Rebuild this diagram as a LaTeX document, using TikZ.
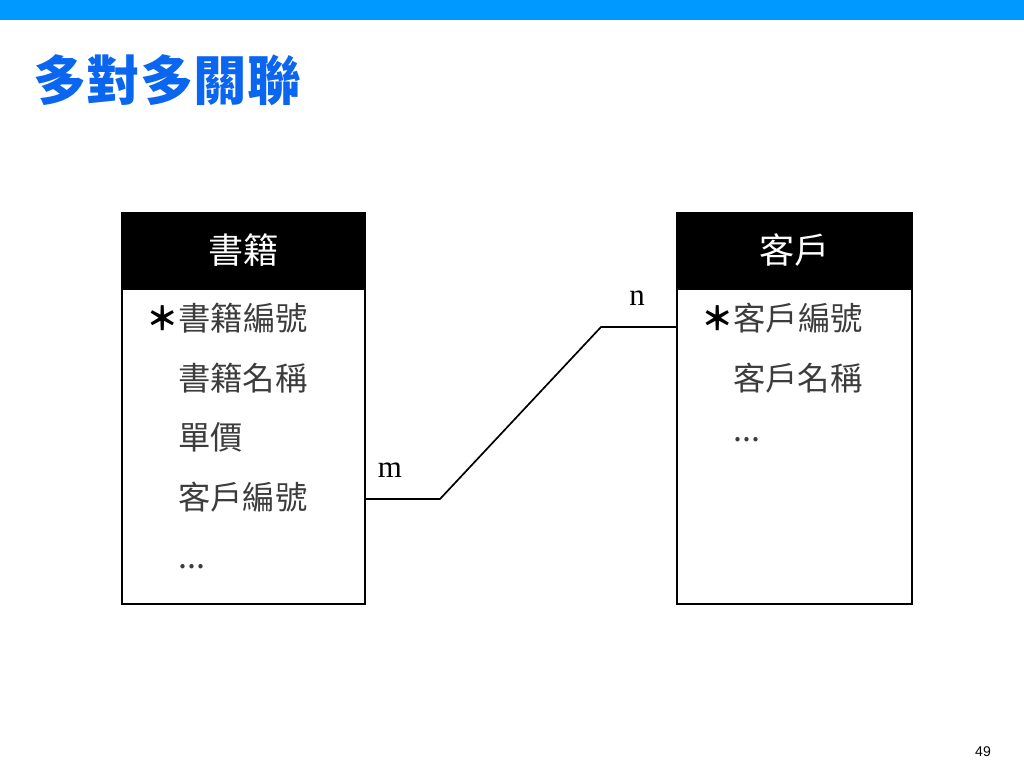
\documentclass[tikz,border=0pt]{standalone}
\usepackage{fontspec}
\newfontfamily\cjk{Noto Sans CJK TC}
\newfontfamily\numfont{Liberation Serif}
\setsansfont{Liberation Sans}
\usetikzlibrary{positioning}
\definecolor{barblue}{HTML}{0099FF}
\definecolor{titleblue}{HTML}{0A66F0}
\definecolor{fieldgray}{HTML}{3C3C3C}
\newcommand{\keymark}{{\color{black}\bfseries ＊}}

\begin{document}
\begin{tikzpicture}[
  x=0.025cm, y=-0.025cm,
  head/.style={draw, line width=1.2pt, fill=black, text=white, inner sep=0pt, minimum height=1.85cm, font=\cjk\fontsize{25}{25}\selectfont},
  entity/.style={draw, line width=1.2pt, inner sep=0pt, minimum height=7.875cm},
  field/.style={anchor=west, inner sep=0pt, text=fieldgray, font=\cjk\fontsize{23}{23}\selectfont},
  card/.style={inner sep=0pt, font=\numfont\fontsize{22}{22}\selectfont},
  link/.style={line width=1.2pt}
]
\useasboundingbox (0,0) rectangle (1024,768);
\fill[barblue] (0,0) rectangle (1024,20);
\node[anchor=west, inner sep=0pt, text=titleblue, font=\cjk\bfseries\fontsize{38}{38}\selectfont] (title) at (33,80) {多對多關聯};

% books
\node[head, minimum width=6.075cm] (bookhead) at (243.5,250) {書籍};
\node[entity, minimum width=6.075cm, below=0pt of bookhead] (bookbody) {};
\node[field] (bookid) at (146,318) {\keymark 書籍編號};
\node[field] (bookname) at (178,378) {書籍名稱};
\node[field] (price) at (178,437) {單價};
\node[field] (bookcust) at (178,497) {客戶編號};
\node[field] (bookmore) at (178,567) {...};

% customers
\node[head, minimum width=5.875cm] (custhead) at (794.5,250) {客戶};
\node[entity, minimum width=5.875cm, below=0pt of custhead] (custbody) {};
\node[field] (custid) at (701,318) {\keymark 客戶編號};
\node[field] (custname) at (733,378) {客戶名稱};
\node[field] (custmore) at (733,440) {...};

\coordinate (bendm) at (440,499);
\coordinate (bendn) at (601,327);
\draw[link] (bookbody.east |- bendm) -- (bendm) -- (bendn) -- (custbody.west |- bendn);
\node[card] (mlabel) at (390,470) {m};
\node[card] (nlabel) at (637,298) {n};

\node[inner sep=0pt, font=\sffamily\fontsize{10}{10}\selectfont] (page) at (983,752) {49};
\end{tikzpicture}
\end{document}
